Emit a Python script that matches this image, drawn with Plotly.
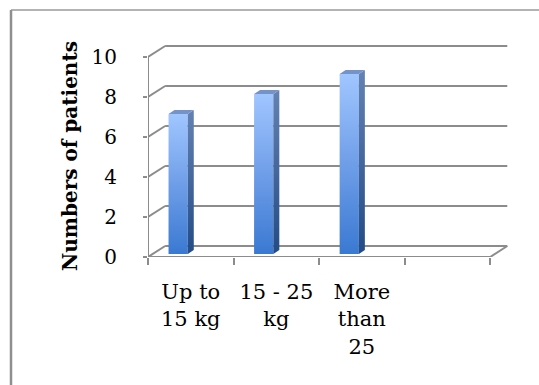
import plotly.graph_objects as go

# Patients per weight group
categories = ["Up to<br>15 kg", "15 - 25<br>kg", "More<br>than<br>25"]
patients = [7, 8, 9]
y_ticks = [0, 2, 4, 6, 8, 10]
y_title = "Numbers of patients"

# Pseudo-3D geometry (axis units)
n_slots = len(categories) + 1          # the floor has one empty slot on the right
depth_dx, depth_dy = 0.2, 0.55          # back wall offset
bar_left, bar_right = -0.26, -0.035     # front face relative to slot centre
bar_base = 0.15
side_dx, side_dy = 0.07, 0.2            # bar depth

GRID = "#8c8c8c"
FONT = "DejaVu Serif"

x_lo = 0.5
x_hi = n_slots + 0.5
x_max = x_hi + 0.29
y_max = 10.7

fig = go.Figure()

# bars: front face, right side and top, each with its own vertical gradient
for i, v in enumerate(patients, start=1):
    xl, xr = i + bar_left, i + bar_right
    b, t = bar_base, bar_base + v
    fig.add_trace(go.Scatter(
        x=[xl, xr, xr, xl, xl], y=[b, b, t, t, b], mode="lines",
        line=dict(width=0), fill="toself", hoverinfo="skip",
        fillgradient=dict(type="vertical",
                          colorscale=[[0, "#3a79d2"], [0.5, "#6f9ee8"], [1, "#a0c6ff"]]),
        showlegend=False))
    fig.add_trace(go.Scatter(
        x=[xr, xr + side_dx, xr + side_dx, xr, xr],
        y=[b, b + side_dy, t + side_dy, t, b], mode="lines",
        line=dict(width=0), fill="toself", hoverinfo="skip",
        fillgradient=dict(type="vertical",
                          colorscale=[[0, "#234b85"], [1, "#6482b3"]]),
        showlegend=False))
    fig.add_trace(go.Scatter(
        x=[xl, xr, xr + side_dx, xl + side_dx, xl],
        y=[t, t, t + side_dy, t + side_dy, t], mode="lines",
        line=dict(width=0), fill="toself", hoverinfo="skip",
        fillcolor="#7393c9", showlegend=False))

shapes = []
line = dict(color=GRID, width=2)
# back wall gridlines and the diagonals joining them to the value axis
for k in y_ticks:
    shapes.append(dict(type="line", xref="x", yref="y", layer="below",
                       x0=x_lo + depth_dx, y0=k + depth_dy,
                       x1=x_hi + depth_dx, y1=k + depth_dy, line=line))
    shapes.append(dict(type="line", xref="x", yref="y", layer="below",
                       x0=x_lo, y0=k, x1=x_lo + depth_dx, y1=k + depth_dy, line=line))
# front floor edge, right floor edge and value axis
shapes.append(dict(type="line", xref="x", yref="y", layer="below",
                   x0=x_lo, y0=0, x1=x_hi, y1=0, line=line))
shapes.append(dict(type="line", xref="x", yref="y", layer="below",
                   x0=x_hi, y0=0, x1=x_hi + depth_dx, y1=depth_dy, line=line))
shapes.append(dict(type="line", xref="x", yref="y", layer="below",
                   x0=x_lo, y0=0, x1=x_lo, y1=max(y_ticks), line=line))

# chart frame (top and left edges)
W, H = 539, 385
ml, mr, mt, mb = 148, 24, 43, 128
pw, ph = W - ml - mr, H - mt - mb
def px(xp):
    return (xp - ml) / pw
def py(yp):
    return (H - mb - yp) / ph
shapes.append(dict(type="line", xref="paper", yref="paper",
                   x0=px(11), y0=py(10), x1=px(W + 2), y1=py(10),
                   line=dict(color="#9a9a9a", width=1.5)))
shapes.append(dict(type="line", xref="paper", yref="paper",
                   x0=px(11), y0=py(10), x1=px(11), y1=py(H + 2),
                   line=dict(color="#8f8f8f", width=2.5)))

fig.update_layout(
    width=W, height=H,
    margin=dict(l=ml, r=mr, t=mt, b=mb, autoexpand=False),
    paper_bgcolor="white", plot_bgcolor="white",
    shapes=shapes,
    font=dict(family=FONT, color="black"),
    annotations=[dict(text=f"<b>{y_title}</b>", textangle=-90,
                      xref="paper", yref="paper", x=px(70), y=py(156),
                      xanchor="center", yanchor="middle", showarrow=False,
                      font=dict(size=20, family=FONT, color="black"))],
    xaxis=dict(range=[x_lo, x_max], tickvals=list(range(1, len(categories) + 1)),
               ticktext=categories, ticks="", showgrid=False, zeroline=False,
               showline=False, tickfont=dict(size=21, family=FONT),
               ticklabelstandoff=20, automargin=False,
               minor=dict(tick0=x_lo, dtick=1, ticks="outside", ticklen=7,
                          tickcolor=GRID, tickwidth=2, showgrid=False)),
    yaxis=dict(range=[0, y_max], tickvals=y_ticks, ticks="outside", ticklen=4,
               tickcolor=GRID, tickwidth=2, showgrid=False, zeroline=False,
               showline=False, tickfont=dict(size=20, family=FONT),
               ticklabelstandoff=22, automargin=False),
)

fig.write_html("out.html")
